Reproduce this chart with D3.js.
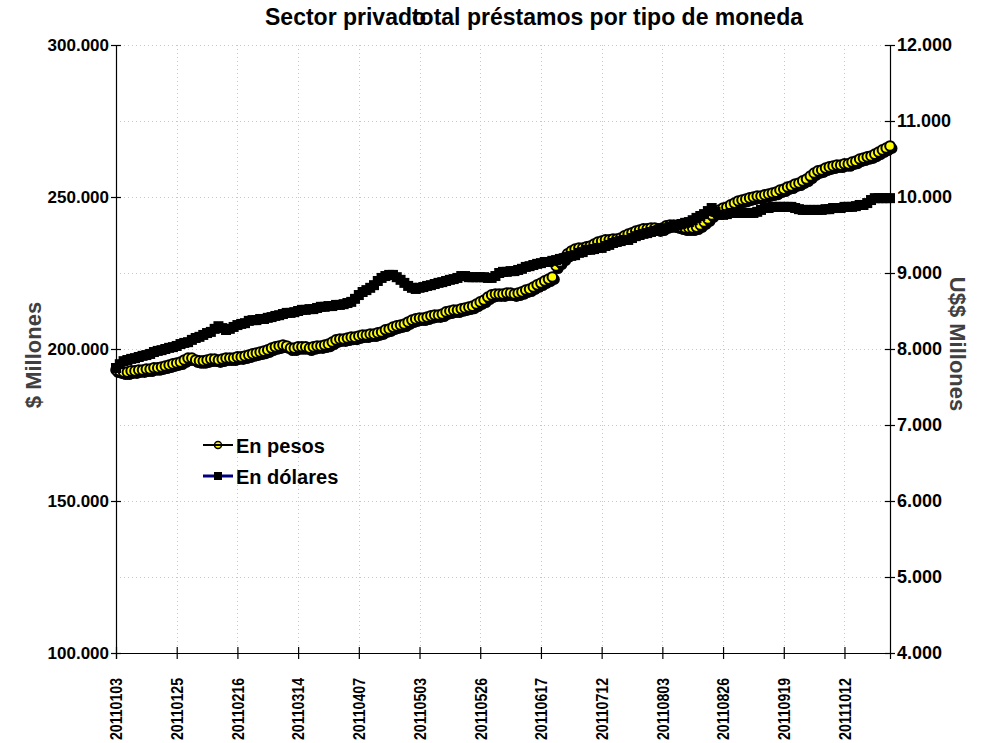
<!DOCTYPE html>
<html>
<head>
<meta charset="utf-8">
<script src="https://cdn.jsdelivr.net/npm/d3@7"></script>
<style>
  body { margin: 0; background: #fff; }
  text { font-family: "Liberation Sans", Arial, sans-serif; font-weight: bold; }
</style>
</head>
<body>
<svg id="chart" width="995" height="743"></svg>
<script>
// x tick labels, one every 16 business days
var tickLabels = ["20110103", "20110125", "20110216", "20110314", "20110407", "20110503",
  "20110526", "20110617", "20110712", "20110803", "20110826", "20110919", "20111012"];
var tickEvery = 16;

// préstamos en pesos ($ millones), one value per business day
var pesos = [
  193100, 192800, 192400, 192400, 192800, 192800, 193100, 193100, 193400, 193400,
  193800, 193800, 194100, 194400, 194700, 195100, 195400, 195700, 196400, 197000,
  197000, 196400, 196100, 196100, 196400, 196700, 196700, 196400, 196700, 197000,
  197000, 197000, 197400, 197400, 197700, 198000, 198400, 198700, 199000, 199300,
  199700, 200300, 200700, 201000, 201300, 201000, 200300, 200300, 200700, 200700,
  200700, 200300, 200700, 201000, 201000, 201300, 201600, 202300, 203000, 203300,
  203300, 203600, 203900, 203900, 204300, 204600, 204600, 204900, 204900, 205300,
  205600, 206300, 206600, 207200, 207600, 207900, 208200, 208900, 209500, 209900,
  210200, 210200, 210500, 210900, 211200, 211200, 211500, 212200, 212500, 212800,
  212800, 213200, 213500, 213800, 214100, 214800, 215500, 216100, 217100, 217800,
  218100, 218100, 218100, 218400, 218400, 218100, 218400, 218800, 219400, 219700,
  220400, 221100, 221700, 222400, 223000, 223700, 227300, 228600, 229900, 231300,
  232200, 232900, 233200, 233200, 233600, 233900, 234500, 235200, 235500, 235900,
  235900, 236200, 236200, 236500, 237200, 237800, 238200, 238800, 239100, 239500,
  239500, 239800, 239800, 239500, 239800, 240500, 240800, 240800, 240500, 240100,
  239800, 239800, 239800, 240100, 240800, 241800, 242800, 244100, 245100, 245700,
  246400, 246700, 247400, 248000, 248700, 249000, 249300, 249700, 250000, 250300,
  250300, 250700, 251000, 251300, 251600, 252300, 252600, 253300, 253600, 254300,
  254600, 255300, 255900, 256900, 257900, 258600, 258900, 259500, 259900, 260200,
  260500, 260500, 260900, 260900, 261500, 261800, 262500, 262800, 263200, 263500,
  264100, 264800, 265500, 266100, 266800
];

// préstamos en dólares (U$$ millones)
var dolares = [
  7750, 7800, 7840, 7855, 7870, 7880, 7895, 7910, 7920, 7935,
  7960, 7975, 7985, 8000, 8015, 8025, 8040, 8065, 8080, 8090,
  8120, 8145, 8160, 8185, 8210, 8225, 8265, 8300, 8275, 8250,
  8265, 8290, 8315, 8330, 8340, 8370, 8380, 8380, 8395, 8395,
  8410, 8420, 8435, 8445, 8460, 8475, 8475, 8485, 8500, 8515,
  8515, 8525, 8525, 8540, 8555, 8555, 8565, 8565, 8580, 8580,
  8590, 8605, 8620, 8660, 8710, 8750, 8775, 8805, 8840, 8895,
  8935, 8960, 8975, 8975, 8945, 8910, 8870, 8830, 8805, 8790,
  8805, 8815, 8830, 8840, 8855, 8870, 8880, 8895, 8910, 8920,
  8935, 8960, 8960, 8945, 8945, 8945, 8945, 8945, 8935, 8935,
  8960, 9000, 9015, 9015, 9025, 9025, 9040, 9055, 9080, 9090,
  9105, 9120, 9130, 9145, 9145, 9160, 9170, 9185, 9195, 9210,
  9225, 9235, 9265, 9275, 9305, 9305, 9315, 9330, 9330, 9355,
  9370, 9395, 9410, 9420, 9435, 9435, 9460, 9485, 9500, 9515,
  9525, 9540, 9555, 9565, 9580, 9590, 9605, 9620, 9630, 9645,
  9660, 9670, 9695, 9725, 9750, 9775, 9815, 9855, 9805, 9765,
  9765, 9775, 9790, 9790, 9790, 9790, 9790, 9790, 9790, 9805,
  9830, 9855, 9855, 9870, 9870, 9870, 9870, 9870, 9870, 9855,
  9840, 9830, 9830, 9830, 9830, 9830, 9830, 9840, 9840, 9855,
  9855, 9855, 9870, 9870, 9870, 9880, 9895, 9895, 9920, 9960,
  9985, 9985, 9985, 9985, 9985
];

var leftTicks = [100000, 150000, 200000, 250000, 300000];
var rightTicks = [4000, 5000, 6000, 7000, 8000, 9000, 10000, 11000, 12000];

var svg = d3.select("#chart");
var plot = {left: 116, right: 890, top: 45, bottom: 653};

var es = d3.formatLocale({decimal: ",", thousands: ".", grouping: [3], currency: ["$", ""]});
var fmt = es.format(",d");

var x = d3.scalePoint().domain(d3.range(pesos.length)).range([plot.left, plot.right]);
var yL = d3.scaleLinear().domain([100000, 300000]).range([plot.bottom, plot.top]);
var yR = d3.scaleLinear().domain([4000, 12000]).range([plot.bottom, plot.top]);

var tickIdx = tickLabels.map((d, i) => i * tickEvery);

// dotted grid
var grid = svg.append("g").attr("stroke", "#c8c8c8").attr("stroke-dasharray", "1,3").attr("stroke-width", 1);
grid.selectAll(".gh").data(rightTicks).enter().append("line")
  .attr("x1", plot.left).attr("x2", plot.right)
  .attr("y1", d => yR(d) + 0.5).attr("y2", d => yR(d) + 0.5);
grid.selectAll(".gv").data(tickIdx).enter().append("line")
  .attr("x1", d => Math.round(x(d)) + 0.5).attr("x2", d => Math.round(x(d)) + 0.5)
  .attr("y1", plot.top).attr("y2", plot.bottom);

// left axis
var axL = svg.append("g").attr("transform", "translate(" + plot.left + ",0)")
  .call(d3.axisLeft(yL).tickValues(leftTicks).tickFormat(fmt).tickSize(5).tickPadding(2));
axL.selectAll(".tick line").attr("x2", 5).attr("x1", -5);
axL.selectAll(".tick text").attr("font-size", 17).attr("fill", "#000");

// right axis
var axR = svg.append("g").attr("transform", "translate(" + plot.right + ",0)")
  .call(d3.axisRight(yR).tickValues(rightTicks).tickFormat(fmt).tickSize(5).tickPadding(2));
axR.selectAll(".tick line").attr("x1", -5).attr("x2", 5);
axR.selectAll(".tick text").attr("font-size", 18).attr("fill", "#000");

// bottom axis, condensed vertical labels
var axB = svg.append("g").attr("transform", "translate(0," + plot.bottom + ")")
  .call(d3.axisBottom(x).tickValues(tickIdx).tickFormat((d, i) => tickLabels[i]).tickSize(6));
axB.selectAll(".tick line").attr("y1", -6).attr("y2", 6);
axB.selectAll(".tick text")
  .attr("font-size", 16).attr("fill", "#000")
  .attr("text-anchor", "end")
  .attr("textLength", 62).attr("lengthAdjust", "spacingAndGlyphs")
  .attr("transform", "translate(0,25) rotate(-90)")
  .attr("x", 0).attr("y", 0).attr("dy", "0.36em");

svg.selectAll(".domain").attr("stroke", "#000").attr("stroke-width", 1.2);
svg.selectAll(".tick line").attr("stroke", "#000").attr("stroke-width", 1.2);

// series: pesos (left axis) - each marker carries a dark shadow, drawn point by point
var linePesos = d3.line().x((d, i) => x(i)).y(d => yL(d));
svg.append("path").datum(pesos)
  .attr("d", linePesos).attr("fill", "none").attr("stroke", "#000").attr("stroke-width", 2);
var mk = svg.append("g").selectAll("g").data(pesos).enter().append("g")
  .attr("transform", (d, i) => "translate(" + x(i) + "," + yL(d) + ")");
mk.append("circle").attr("cx", 2).attr("cy", 2.5).attr("r", 5.5).attr("fill", "#000");
mk.append("circle").attr("r", 4.8)
  .attr("fill", "#ffff00").attr("stroke", "#000").attr("stroke-width", 2);

// series: dolares (right axis)
var lineDol = d3.line().x((d, i) => x(i)).y(d => yR(d));
svg.append("path").datum(dolares)
  .attr("d", lineDol).attr("fill", "none").attr("stroke", "#000080").attr("stroke-width", 1.5);
svg.append("g").selectAll("rect").data(dolares).enter().append("rect")
  .attr("x", (d, i) => x(i) - 5).attr("y", d => yR(d) - 5)
  .attr("width", 10).attr("height", 10).attr("fill", "#000");

// title: the two pieces overlap as in the original
svg.append("text").attr("x", 265).attr("y", 25).attr("font-size", 23).text("Sector privado");
svg.append("text").attr("x", 803).attr("y", 25).attr("font-size", 23).attr("text-anchor", "end")
  .text("total préstamos por tipo de moneda");

// axis titles
svg.append("text").attr("transform", "translate(41,355) rotate(-90)")
  .attr("text-anchor", "middle").attr("font-size", 22).attr("fill", "#404040").text("$ Millones");
svg.append("text").attr("transform", "translate(950,344) rotate(90)")
  .attr("text-anchor", "middle").attr("font-size", 22).attr("fill", "#404040").text("U$$ Millones");

// legend
var leg = svg.append("g");
leg.append("circle").attr("cx", 218).attr("cy", 445).attr("r", 3.5)
  .attr("fill", "#ffff00").attr("stroke", "#000").attr("stroke-width", 1.5);
leg.append("line").attr("x1", 203).attr("x2", 233).attr("y1", 445).attr("y2", 445)
  .attr("stroke", "#000").attr("stroke-width", 2);
leg.append("text").attr("x", 236).attr("y", 453).attr("font-size", 20).text("En pesos");
leg.append("line").attr("x1", 203).attr("x2", 233).attr("y1", 476).attr("y2", 476)
  .attr("stroke", "#000080").attr("stroke-width", 3);
leg.append("rect").attr("x", 214).attr("y", 472).attr("width", 8).attr("height", 8).attr("fill", "#000");
leg.append("text").attr("x", 236).attr("y", 484).attr("font-size", 20).text("En dólares");
</script>
</body>
</html>
